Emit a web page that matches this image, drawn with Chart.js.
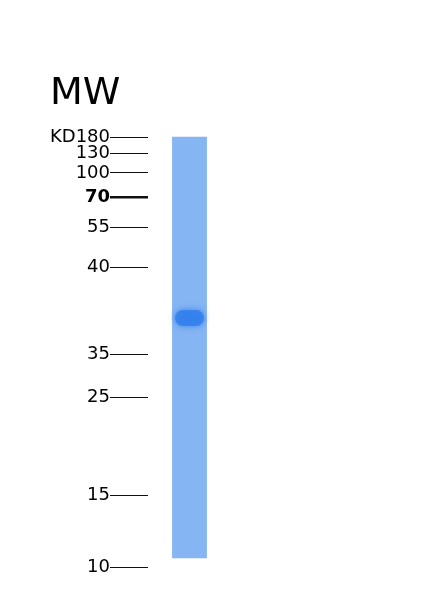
<!DOCTYPE html>
<html>
<head>
<meta charset="utf-8">
<script src="https://cdn.jsdelivr.net/npm/chart.js@4"></script>
<style>
  body { margin: 0; background: #fff; }
  #wrap { width: 439px; height: 600px; }
</style>
</head>
<body>
<div id="wrap"><canvas id="gel"></canvas></div>
<script>
// marker ladder: label and migration distance (relative units, 0 = top)
const markerLabels = ['KD180', '130', '100', '70', '55', '40', '35', '25', '15', '10'];
const markerPos = [1.8, 5.4, 9.7, 15.1, 22.0, 30.8, 50.3, 60.0, 82.0, 98.0];
const boldMarker = '70';

// sample lane: where the lane runs, and the main band
const lanes = ['Sample'];
const laneRange = [1.6, 96.0];
const bandRange = [40.4, 44.0];

// soft edge for the band so it looks like stained protein
const bandGlow = {
    id: 'bandGlow',
    beforeDatasetDraw(chart, args) {
        if (args.index !== 0) return;
        chart.ctx.save();
        chart.ctx.shadowColor = 'rgba(40, 120, 235, 0.9)';
        chart.ctx.shadowBlur = 6;
    },
    afterDatasetDraw(chart, args) {
        if (args.index !== 0) return;
        chart.ctx.restore();
    }
};

const ctx = document.getElementById('gel').getContext('2d');

new Chart(ctx, {
    type: 'bar',
    data: {
        labels: lanes,
        datasets: [{
            label: 'band',
            data: [bandRange],
            backgroundColor: 'rgba(50, 128, 236, 0.85)',
            borderRadius: 8,
            borderSkipped: false,
            barPercentage: 0.35,
            categoryPercentage: 1,
            grouped: false,
            order: 0
        }, {
            label: 'lane',
            data: [laneRange],
            backgroundColor: 'rgb(133, 181, 243)',
            borderSkipped: false,
            barPercentage: 0.42,
            categoryPercentage: 1,
            grouped: false,
            order: 1
        }]
    },
    options: {
        responsive: true,
        maintainAspectRatio: false,
        animation: false,
        layout: {
            padding: { left: 50, right: 208, top: 0, bottom: 24 }
        },
        plugins: {
            legend: { display: false },
            tooltip: { enabled: false },
            title: {
                display: true,
                text: 'MW',
                align: 'start',
                color: '#000',
                font: { family: 'DejaVu Sans', size: 38, weight: 'normal' },
                padding: { top: 71, bottom: 13 }
            }
        },
        scales: {
            x: {
                display: false
            },
            y: {
                reverse: true,
                min: 0,
                max: 100,
                border: { display: false },
                afterBuildTicks: scale => {
                    scale.ticks = markerPos.map(v => ({ value: v }));
                },
                // the ladder labels are wider than chart.js allows by default
                afterFit: scale => {
                    scale.width = 98;
                },
                grid: {
                    drawOnChartArea: false,
                    drawTicks: true,
                    tickLength: 38,
                    tickColor: '#111',
                    lineWidth: c => markerLabels[c.index] === boldMarker ? 2.5 : 1
                },
                ticks: {
                    padding: 0,
                    color: '#000',
                    autoSkip: false,
                    font: c => ({
                        family: 'DejaVu Sans',
                        size: 18,
                        weight: markerLabels[c.index] === boldMarker ? 'bold' : 'normal'
                    }),
                    callback: (value, index) => markerLabels[index]
                }
            }
        }
    },
    plugins: [bandGlow]
});
</script>
</body>
</html>
